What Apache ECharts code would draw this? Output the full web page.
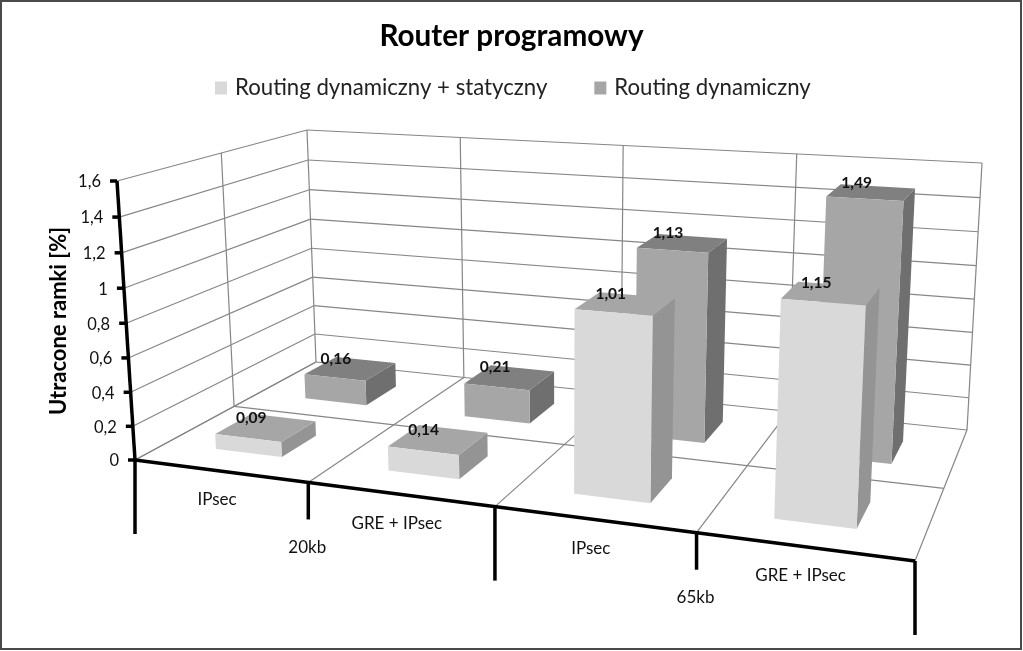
<!DOCTYPE html>
<html><head><meta charset="utf-8">
<script src="https://cdn.jsdelivr.net/npm/echarts@6/dist/echarts.min.js"></script>
<style>html,body{margin:0;padding:0;background:#fff}#c{width:1023px;height:651px}</style>
</head><body><div id="c"></div>
<script>
var chartTitle = 'Router programowy';
var yAxisTitle = 'Utracone ramki [%]';
var seriesNames = ['Routing dynamiczny + statyczny', 'Routing dynamiczny'];
var categories = ['IPsec', 'GRE + IPsec', 'IPsec', 'GRE + IPsec'];
var groups = ['20kb', '65kb'];
var seriesLight = [0.09, 0.14, 1.01, 1.15];
var seriesDark = [0.16, 0.21, 1.13, 1.49];
var yTicks = [0, 0.2, 0.4, 0.6, 0.8, 1, 1.2, 1.4, 1.6];

var FONT = 'Lato, "Open Sans", sans-serif';
var floorQ = [[135,460],[915,561],[967,430],[316,362]];
var ceilQ  = [[117,181],[931,231],[982,163],[307,130]];
var YMAX = 1.6, CATS = categories.length;
var GRID = {left: 0, top: 0, width: 400, height: 160};

function homography(q) {
  var x0=q[0][0],y0=q[0][1],x1=q[1][0],y1=q[1][1],x2=q[2][0],y2=q[2][1],x3=q[3][0],y3=q[3][1];
  var dx1=x1-x2,dx2=x3-x2,sx=x0-x1+x2-x3,dy1=y1-y2,dy2=y3-y2,sy=y0-y1+y2-y3;
  var den=dx1*dy2-dx2*dy1;
  var g=(sx*dy2-dx2*sy)/den,h=(dx1*sy-sx*dy1)/den;
  var a=x1-x0+g*x1,b=x3-x0+h*x3,d=y1-y0+g*y1,e=y3-y0+h*y3;
  return function(u,v){var w=g*u+h*v+1;return [(a*u+b*v+x0)/w,(d*u+e*v+y0)/w];};
}
var hF = homography(floorQ), hC = homography(ceilQ);
function P(u,d,t){
  var k=1.04, s=t/(t+k*(1-t));
  var a=hF(u,d), b=hC(u,d);
  return [a[0]+(b[0]-a[0])*s, a[1]+(b[1]-a[1])*s];
}
function norm(api,x,y){
  var c=api.coord([x,y]);
  return [(c[0]-GRID.left)/GRID.width,(GRID.top+GRID.height-c[1])/GRID.height];
}
var GRIDC='#868686', AX='#000';
function ln(a,b,col,w){return {type:'line',shape:{x1:a[0],y1:a[1],x2:b[0],y2:b[1]},style:{stroke:col,lineWidth:w,fill:null}};}
function tx(s,x,y,size,weight,align){return {type:'text',x:x,y:y,style:{text:s,fill:'#111',font:(weight||'normal')+' '+size+'px '+FONT,textAlign:align||'center',textVerticalAlign:'middle'}};}

function renderFrame(params,api){
  var ch=[];
  yTicks.forEach(function(v){
    var t=norm(api,0,v)[1];
    ch.push(ln(P(0,0,t),P(0,1,t),GRIDC,1.2));
    ch.push(ln(P(0,1,t),P(1,1,t),GRIDC,1.2));
  });
  for(var i=0;i<=CATS;i++){
    var u=norm(api,i,0)[0];
    ch.push(ln(P(u,0,0),P(u,1,0),GRIDC,1.2));
    ch.push(ln(P(u,1,0),P(u,1,1),GRIDC,1.2));
  }
  ch.push(ln(P(0,0.5,0),P(1,0.5,0),GRIDC,1.2));
  ch.push(ln(P(0,0.5,0),P(0,0.5,1),GRIDC,1.2));
  ch.push(ln(P(0,0,0),P(0,0,1),AX,3.5));
  ch.push(ln(P(0,0,0),P(1,0,0),AX,3.5));
  yTicks.forEach(function(v,idx){
    var t=norm(api,0,v)[1], p=P(0,0,t);
    ch.push(ln([p[0]-7,p[1]],[p[0],p[1]],AX,3.5));
    var lab=String(v).replace('.',',');
    ch.push(tx(lab,p[0]-16,p[1]+1,16.5,'normal','right'));
  });
  for(i=0;i<=CATS;i++){
    u=norm(api,i,0)[0];
    var p=P(u,0,0), len=(i%2===0)?74:37;
    ch.push(ln([p[0],p[1]],[p[0],p[1]+len],AX,3.5));
    if(i<CATS){
      var m=P(norm(api,i+0.5,0)[0],0,0);
      ch.push(tx(categories[i],m[0]-3,m[1]+29,17,'normal'));
    }
    if(i%2===1){ ch.push(tx(groups[(i-1)/2],p[0]-1,p[1]+65,17,'normal')); }
  }
  return {type:'group',children:ch};
}

var barU=[0.31,0.70];
var rows=[{d0:0.15,d1:0.34,du:-0.012,front:'#d9d9d9',side:'#949494',top:'#a6a6a6'},
          {d0:0.64,d1:0.84,du:-0.003,front:'#a6a6a6',side:'#6f6f6f',top:'#808080'}];
function renderBar(params,api){
  var cat=api.value(0), rowI=api.value(1), val=api.value(2), r=rows[rowI];
  var u0=norm(api,cat+barU[0]+r.du,0)[0], u1=norm(api,cat+barU[1]+r.du,0)[0], t=norm(api,0,val)[1];
  var a=P(u0,r.d0,0),b=P(u1,r.d0,0),c=P(u1,r.d1,0);
  var at=P(u0,r.d0,t),bt=P(u1,r.d0,t),ct=P(u1,r.d1,t),dt=P(u0,r.d1,t);
  var cx=(at[0]+ct[0])/2, cy=(at[1]+ct[1])/2;
  return {type:'group',children:[
    {type:'polygon',shape:{points:[b,c,ct,bt]},style:{fill:r.side}},
    {type:'polygon',shape:{points:[at,bt,ct,dt]},style:{fill:r.top}},
    {type:'polygon',shape:{points:[a,b,bt,at]},style:{fill:r.front}},
    tx(val.toFixed(2).replace('.',','),cx-14,cy-10,15.5,'bold')
  ]};
}
function barData(vals,row){return vals.map(function(v,i){return [i,row,v];});}

var chart=echarts.init(document.getElementById('c'),null,{renderer:'canvas'});
chart.setOption({
  animation:false,
  backgroundColor:'#fff',
  title:{text:chartTitle,left:'center',top:16,textStyle:{fontFamily:FONT,fontSize:29.7,fontWeight:'bold',color:'#000'}},
  legend:{data:seriesNames,left:210,top:72,itemWidth:12,itemHeight:13,itemGap:47,icon:'rect',
    textStyle:{fontFamily:FONT,fontSize:22.2,color:'#222',padding:[0,0,0,3]}},
  grid:{left:GRID.left,top:GRID.top,width:GRID.width,height:GRID.height,show:false},
  xAxis:{type:'value',min:0,max:CATS,show:false},
  yAxis:{type:'value',min:0,max:YMAX,interval:0.2,show:false},
  graphic:[
    {type:'rect',z:100,shape:{x:1,y:1,width:1020,height:648},style:{fill:null,stroke:'#4a4a4a',lineWidth:2},silent:true},
    {type:'text',z:100,rotation:Math.PI/2,x:59,y:321,style:{text:yAxisTitle,fill:'#000',font:'bold 22px '+FONT,textAlign:'center',textVerticalAlign:'middle'},silent:true}
  ],
  series:[
    {type:'custom',name:'frame',z:1,silent:true,clip:false,renderItem:renderFrame,data:[[0,0]],encode:{x:0,y:1}},
    {type:'custom',name:seriesNames[1],z:3,silent:true,clip:false,itemStyle:{color:'#a6a6a6'},renderItem:renderBar,data:barData(seriesDark,1),encode:{x:0,y:2}},
    {type:'custom',name:seriesNames[0],z:4,silent:true,clip:false,itemStyle:{color:'#d9d9d9'},renderItem:renderBar,data:barData(seriesLight,0),encode:{x:0,y:2}}
  ]
});
</script></body></html>
